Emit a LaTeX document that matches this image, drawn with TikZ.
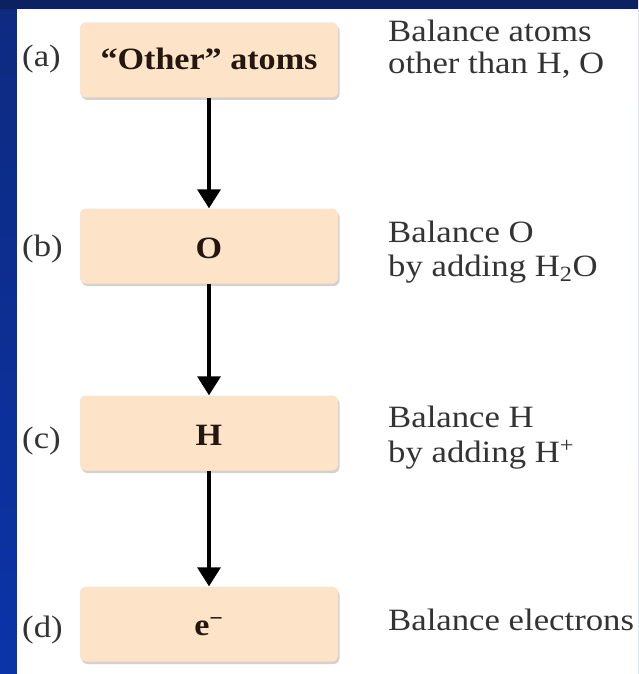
\documentclass[tikz,border=0pt]{standalone}
\usepackage{fontspec}
\usepackage{graphicx}
\setmainfont{Liberation Serif}
\usetikzlibrary{arrows.meta,shadows}
\definecolor{navy}{HTML}{0C2160}
\definecolor{sideblue}{HTML}{0B34A8}
\definecolor{sidetop}{HTML}{0E2A80}
\definecolor{peach}{HTML}{FDE3C7}
\definecolor{txt}{HTML}{333333}
\definecolor{boxtxt}{HTML}{24170F}
\newcommand\wide[1]{\scalebox{1.12}[1]{#1}}
\newcommand\bwide[1]{\scalebox{1.1}[1]{#1}}
\tikzset{
  stepbox/.style={rectangle, rounded corners=6pt, fill=peach, minimum width=258pt, minimum height=75pt,
    drop shadow={shadow xshift=1.5pt, shadow yshift=-2.5pt, opacity=0.35, fill=gray}},
  boxtext/.style={anchor=base, inner sep=0pt, text=boxtxt, font=\fontsize{31}{34}\selectfont\bfseries},
  desc/.style={anchor=base west, inner sep=0pt, text=txt, font=\fontsize{31}{34}\selectfont},
  tag/.style={anchor=base west, inner sep=0pt, text=txt, font=\fontsize{31}{34}\selectfont},
  flow/.style={line width=3.5pt, draw=black, -{Triangle[width=23pt,length=19pt]}}
}
\begin{document}
\begin{tikzpicture}[x=1pt,y=-1pt]
\useasboundingbox (0,0) rectangle (638,674);
% background
\shade[top color=sidetop, bottom color=sideblue] (0,0) rectangle (638,674);
\fill[navy] (0,0) rectangle (638,9);
\fill[white] (17,9) rectangle (638,674);
% boxes
\node[stepbox] (a) at (209,60) {};
\node[stepbox] (b) at (209,246) {};
\node[stepbox] (c) at (209,433) {};
\node[stepbox] (d) at (209,624) {};
% box texts
\node[boxtext] (ta) at (209,70) {\bwide{“Other” atoms}};
\node[boxtext] (tb) at (209,258) {\bwide{O}};
\node[boxtext] (tc) at (209,445) {\bwide{H}};
\node[boxtext] (td) at (209,635) {\bwide{e\textsuperscript{−}}};
% arrows
\draw[flow] (a.south) -- (b.north);
\draw[flow] (b.south) -- (c.north);
\draw[flow] (c.south) -- (d.north);
% tags
\node[tag] (la) at (22,67) {\wide{(a)}};
\node[tag] (lb) at (22,256) {\wide{(b)}};
\node[tag] (lc) at (22,448) {\wide{(c)}};
\node[tag] (ld) at (22,637) {\wide{(d)}};
% descriptions
\node[desc] (ra1) at (388,42) {\wide{Balance atoms}};
\node[desc] (ra2) at (388,74) {\wide{other than H, O}};
\node[desc] (rb1) at (388,242) {\wide{Balance O}};
\node[desc] (rb2) at (388,276) {\wide{by adding H\textsubscript{2}O}};
\node[desc] (rc1) at (388,427) {\wide{Balance H}};
\node[desc] (rc2) at (388,462) {\wide{by adding H\textsuperscript{+}}};
\node[desc] (rd1) at (388,630) {\wide{Balance electrons}};
\end{tikzpicture}
\end{document}
